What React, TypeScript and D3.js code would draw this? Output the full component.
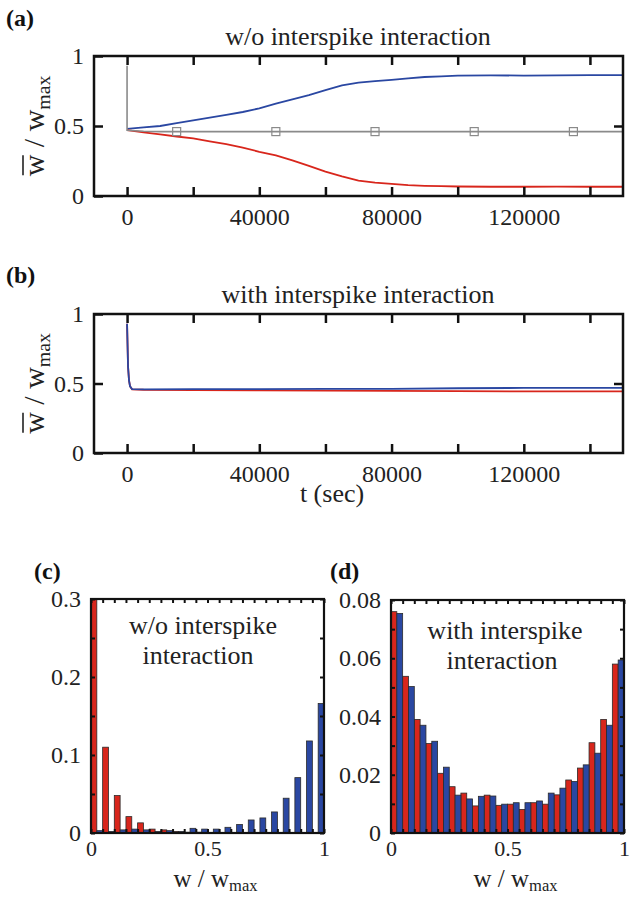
import React, { useEffect, useRef } from "react";
import * as d3 from "d3";

const RED = "#d8261c";
const BLUE = "#2a47a2";
const GRAY = "#8a8a8a";
const FONT = "'Liberation Serif', 'Times New Roman', serif";

// (a) w/o interspike interaction: mean weight over time
const timesA = [0, 0, 5000, 10000, 15000, 20000, 25000, 30000, 35000, 40000, 45000, 50000, 55000, 60000, 65000, 70000, 75000, 80000, 85000, 90000, 95000, 100000, 110000, 120000, 130000, 140000, 150000];
const blueA = [null, 0.48, 0.49, 0.5, 0.52, 0.54, 0.56, 0.58, 0.6, 0.626, 0.66, 0.69, 0.72, 0.757, 0.79, 0.81, 0.82, 0.83, 0.84, 0.85, 0.855, 0.86, 0.862, 0.86, 0.862, 0.863, 0.864];
const redA = [null, 0.47, 0.455, 0.44, 0.425, 0.412, 0.39, 0.37, 0.345, 0.316, 0.29, 0.255, 0.215, 0.174, 0.14, 0.11, 0.095, 0.086, 0.078, 0.073, 0.07, 0.068, 0.066, 0.066, 0.067, 0.066, 0.066];
const grayA = [0.93, 0.47, 0.462, 0.46, 0.46, 0.46, 0.46, 0.46, 0.46, 0.46, 0.46, 0.46, 0.46, 0.46, 0.46, 0.46, 0.46, 0.46, 0.46, 0.46, 0.46, 0.46, 0.46, 0.46, 0.46, 0.46, 0.46];
const markerTimes = [15000, 45000, 75000, 105000, 135000];
const markerValues = [0.46, 0.46, 0.46, 0.46, 0.46];

// (b) with interspike interaction
const timesB = [0, 300, 600, 900, 1500, 5000, 20000, 40000, 60000, 80000, 100000, 120000, 140000, 150000];
const blueB = [0.93, 0.62, 0.52, 0.48, 0.46, 0.458, 0.459, 0.46, 0.461, 0.462, 0.466, 0.468, 0.468, 0.468];
const redB = [0.93, 0.62, 0.52, 0.48, 0.458, 0.455, 0.452, 0.45, 0.449, 0.447, 0.445, 0.443, 0.443, 0.443];

const timeTicks = [0, 20000, 40000, 60000, 80000, 100000, 120000, 140000];
const timeTickLabels = [0, 40000, 80000, 120000];

// histograms, bins of 0.05
const binStarts = [0, 0.05, 0.1, 0.15, 0.2, 0.25, 0.3, 0.35, 0.4, 0.45, 0.5, 0.55, 0.6, 0.65, 0.7, 0.75, 0.8, 0.85, 0.9, 0.95];
const redC = [0.31, 0.11, 0.048, 0.021, 0.013, 0.005, 0.004, 0.002, 0.001, 0.001, 0.0005, 0, 0, 0, 0, 0, 0, 0, 0, 0];
const blueC = [0.003, 0.002, 0.004, 0.005, 0.004, 0.002, 0.003, 0.002, 0.006, 0.005, 0.005, 0.0073, 0.011, 0.0167, 0.0193, 0.027, 0.0446, 0.071, 0.118, 0.166];
const redD = [0.076, 0.0538, 0.039, 0.0307, 0.0205, 0.0159, 0.0137, 0.0093, 0.013, 0.0095, 0.0099, 0.0081, 0.0104, 0.0099, 0.0131, 0.0182, 0.0223, 0.031, 0.039, 0.058];
const blueD = [0.0754, 0.0503, 0.037, 0.0315, 0.0226, 0.013, 0.0117, 0.0126, 0.0127, 0.0099, 0.0104, 0.0104, 0.011, 0.0137, 0.0154, 0.0177, 0.0234, 0.0274, 0.037, 0.0594];
const histXLabels = [0, 0.5, 1];
const yLabelsC = [0, 0.1, 0.2, 0.3];
const yLabelsD = [0, 0.02, 0.04, 0.06, 0.08];

const App = () => {
  const ref = useRef(null);

  useEffect(() => {
    document.body.style.margin = "0";
    if (ref.current) drawFigure(ref.current);
  }, []);

  return <svg ref={ref} width={633} height={897} style={{ display: "block", background: "#fff" }} />;
};

function styleAxis(g, size) {
  g.attr("font-family", FONT).attr("font-size", size);
  g.select(".domain").remove();
  g.selectAll(".tick line").attr("stroke", "#111").attr("stroke-width", 2.5);
  g.selectAll(".tick text").attr("fill", "#222");
}

function wLabel(svg, x, y, rotate, size, subDy) {
  const t = svg
    .append("text")
    .attr("transform", `translate(${x},${y})${rotate ? " rotate(-90)" : ""}`)
    .attr("text-anchor", "middle")
    .attr("font-family", FONT)
    .attr("font-size", size)
    .attr("fill", "#222");
  t.append("tspan").text("w / w");
  t.append("tspan").attr("dy", subDy).attr("font-size", size * 0.66).text("max");
  return t;
}

function drawTimePanel(svg, cfg) {
  const { id, top, bottom, left, right, times, lines, tag, title, titleY, tagY } = cfg;
  const x = d3.scaleLinear().domain([-10000, 150000]).range([left, right]);
  const y = d3.scaleLinear().domain([0, 1]).range([bottom, top]);

  svg.append("clipPath").attr("id", id).append("rect")
    .attr("x", left).attr("y", top).attr("width", right - left).attr("height", bottom - top);

  const line = d3.line()
    .defined((d) => d != null)
    .x((_, i) => x(times[i]))
    .y((d) => y(d));

  lines.forEach((s) => {
    svg.append("path")
      .datum(s.values)
      .attr("clip-path", `url(#${id})`)
      .attr("fill", "none")
      .attr("stroke", s.color)
      .attr("stroke-width", s.width || 1.8)
      .attr("d", line);
  });

  if (cfg.markers) {
    svg.selectAll(null)
      .data(cfg.markers.t)
      .enter()
      .append("rect")
      .attr("x", (d) => x(d) - 4)
      .attr("y", (d, i) => y(cfg.markers.v[i]) - 4)
      .attr("width", 8)
      .attr("height", 8)
      .attr("fill", "none")
      .attr("stroke", GRAY)
      .attr("stroke-width", 1.2);
  }

  // axes with inward ticks
  const bottomAxis = svg.append("g").attr("transform", `translate(0,${bottom})`)
    .call(d3.axisBottom(x).tickValues(timeTicks).tickSize(-9).tickPadding(12)
      .tickFormat((d) => (timeTickLabels.includes(d) ? String(d) : "")));
  styleAxis(bottomAxis, 24);
  const topAxis = svg.append("g").attr("transform", `translate(0,${top})`)
    .call(d3.axisTop(x).tickValues(timeTicks).tickSize(-9).tickFormat(() => ""));
  styleAxis(topAxis, 24);
  const leftAxis = svg.append("g").attr("transform", `translate(${left},0)`)
    .call(d3.axisLeft(y).tickValues([0, 0.5, 1]).tickSize(-9).tickPadding(10).tickFormat((d) => String(d)));
  styleAxis(leftAxis, 24);
  const rightAxis = svg.append("g").attr("transform", `translate(${right},0)`)
    .call(d3.axisRight(y).tickValues([0.5]).tickSize(-9).tickFormat(() => ""));
  styleAxis(rightAxis, 24);

  svg.append("rect")
    .attr("x", left).attr("y", top).attr("width", right - left).attr("height", bottom - top)
    .attr("fill", "none").attr("stroke", "#111").attr("stroke-width", 2.5);

  svg.append("text").attr("x", 358).attr("y", titleY).attr("text-anchor", "middle")
    .attr("font-family", FONT).attr("font-size", 26).attr("fill", "#222").text(title);
  svg.append("text").attr("x", 6).attr("y", tagY)
    .attr("font-family", FONT).attr("font-size", 24).attr("font-weight", "bold").attr("fill", "#111").text(tag);

  // y label: mean w / w_max
  const lx = 44;
  const cy = (top + bottom) / 2;
  const t = wLabel(svg, lx, cy, true, 30, 6);
  const bb = t.node().getBBox();
  svg.append("line")
    .attr("transform", `translate(${lx},${cy}) rotate(-90)`)
    .attr("x1", bb.x + 1).attr("x2", bb.x + 21)
    .attr("y1", -21).attr("y2", -21)
    .attr("stroke", "#222").attr("stroke-width", 1.6);
}

function drawHistPanel(svg, cfg) {
  const { id, top, bottom, left, right, yMax, red, blue, yTickStep, yLabels, fmt, tag, textLines, textX } = cfg;
  const x = d3.scaleLinear().domain([0, 1]).range([left, right]);
  const y = d3.scaleLinear().domain([0, yMax]).range([bottom, top]);
  const half = 0.025;

  svg.append("clipPath").attr("id", id).append("rect")
    .attr("x", left).attr("y", top).attr("width", right - left).attr("height", bottom - top);
  const bars = svg.append("g").attr("clip-path", `url(#${id})`);

  [[red, RED, 0], [blue, BLUE, half]].forEach(([vals, color, off]) => {
    bars.selectAll(null)
      .data(vals)
      .enter()
      .append("rect")
      .attr("x", (_, i) => x(binStarts[i] + off))
      .attr("y", (d) => y(d))
      .attr("width", (_, i) => x(binStarts[i] + off + half) - x(binStarts[i] + off))
      .attr("height", (d) => y(0) - y(d))
      .attr("fill", color)
      .attr("stroke", "#2b2b2b")
      .attr("stroke-width", 0.8);
  });

  const yTicks = d3.range(0, yMax + 1e-9, yTickStep);
  const xTicks = x.ticks(20);

  const bottomAxis = svg.append("g").attr("transform", `translate(0,${bottom})`)
    .call(d3.axisBottom(x).tickValues(xTicks).tickSize(-4).tickPadding(7)
      .tickFormat((d) => (histXLabels.includes(+d.toFixed(2)) ? String(+d.toFixed(2)) : "")));
  styleAxis(bottomAxis, 22);
  const topAxis = svg.append("g").attr("transform", `translate(0,${top})`)
    .call(d3.axisTop(x).tickValues(xTicks).tickSize(-4).tickFormat(() => ""));
  styleAxis(topAxis, 24);
  const leftAxis = svg.append("g").attr("transform", `translate(${left},0)`)
    .call(d3.axisLeft(y).tickValues(yTicks).tickSize(-4).tickPadding(10)
      .tickFormat((d) => {
        const v = +d.toFixed(3);
        return yLabels.includes(v) ? fmt(v) : "";
      }));
  styleAxis(leftAxis, 24);
  const rightAxis = svg.append("g").attr("transform", `translate(${right},0)`)
    .call(d3.axisRight(y).tickValues(yTicks).tickSize(-4).tickFormat(() => ""));
  styleAxis(rightAxis, 24);
  [topAxis, bottomAxis, leftAxis, rightAxis].forEach((a) => a.selectAll(".tick line").attr("stroke-width", 2));

  svg.append("rect")
    .attr("x", left).attr("y", top).attr("width", right - left).attr("height", bottom - top)
    .attr("fill", "none").attr("stroke", "#111").attr("stroke-width", 2.2);

  textLines.forEach((s, i) => {
    svg.append("text").attr("x", textX[i]).attr("y", s.y).attr("text-anchor", "middle")
      .attr("font-family", FONT).attr("font-size", 26).attr("fill", "#222").text(s.text);
  });
  svg.append("text").attr("x", cfg.tagX).attr("y", 579)
    .attr("font-family", FONT).attr("font-size", 24).attr("font-weight", "bold").attr("fill", "#111").text(tag);

  wLabel(svg, (left + right) / 2 + 8, 887, false, 25, 4);
}

function drawFigure(node) {
  const svg = d3.select(node);
  svg.selectAll("*").remove();

  drawTimePanel(svg, {
    id: "clip-a", top: 56, bottom: 196, left: 94, right: 623,
    times: timesA,
    lines: [
      { values: blueA, color: BLUE },
      { values: redA, color: RED },
      { values: grayA, color: GRAY, width: 1.6 },
    ],
    markers: { t: markerTimes, v: markerValues },
    tag: "(a)", tagY: 26, title: "w/o interspike interaction", titleY: 45,
  });

  drawTimePanel(svg, {
    id: "clip-b", top: 314, bottom: 453, left: 94, right: 623,
    times: timesB,
    lines: [
      { values: redB, color: RED },
      { values: blueB, color: BLUE },
    ],
    tag: "(b)", tagY: 283, title: "with interspike interaction", titleY: 303,
  });

  svg.append("text").attr("x", 332).attr("y", 502).attr("text-anchor", "middle")
    .attr("font-family", FONT).attr("font-size", 26).attr("fill", "#222").text("t (sec)");

  drawHistPanel(svg, {
    id: "clip-c", top: 599, bottom: 833, left: 91, right: 324,
    yMax: 0.3, red: redC, blue: blueC, yTickStep: 0.05, yLabels: yLabelsC,
    fmt: (v) => String(v),
    tag: "(c)", tagX: 34,
    textLines: [{ text: "w/o interspike", y: 634 }, { text: "interaction", y: 664 }],
    textX: [203, 198],
  });

  drawHistPanel(svg, {
    id: "clip-d", top: 600, bottom: 833, left: 391, right: 624,
    yMax: 0.08, red: redD, blue: blueD, yTickStep: 0.01, yLabels: yLabelsD,
    fmt: (v) => (v === 0 ? "0" : v.toFixed(2)),
    tag: "(d)", tagX: 330,
    textLines: [{ text: "with interspike", y: 639 }, { text: "interaction", y: 669 }],
    textX: [505, 502],
  });
}

export default App;
